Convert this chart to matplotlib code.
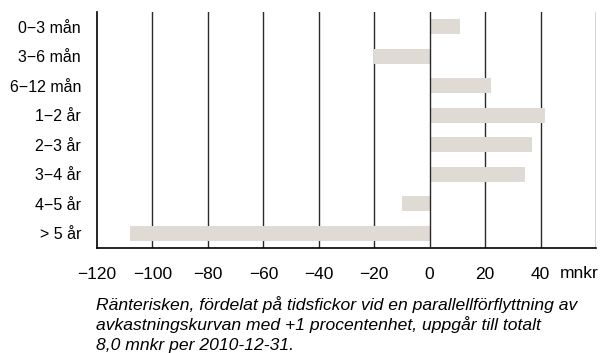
import matplotlib
matplotlib.use("Agg")
import matplotlib.pyplot as plt

categories = ["0\u22123 mån", "3\u22126 mån", "6\u221212 mån", "1\u22122 år",
              "2\u22123 år", "3\u22124 år", "4\u22125 år", "> 5 år"]
values = [11, -20, 22, 41.5, 37, 34.5, -10, -108]
xticks = [-120, -100, -80, -60, -40, -20, 0, 20, 40]
xticklabels = ["\u2212120", "\u2212100", "\u221280", "\u221260", "\u221240",
               "\u221220", "0", "20", "40"]
caption_lines = ["Ränterisken, fördelat på tidsfickor vid en parallellförflyttning av",
                 "avkastningskurvan med +1 procentenhet, uppgår till totalt",
                 "8,0 mnkr per 2010-12-31."]

plt.rcParams['font.family'] = ['Liberation Sans', 'DejaVu Sans']

fig = plt.figure(figsize=(6.0, 3.53), dpi=100)
W, H = 600, 353
left, right, top, bottom = 97, 596, 12, 248
ax = fig.add_axes([left / W, 1 - bottom / H, (right - left) / W, (bottom - top) / H])

ypos = list(range(len(categories)))
ax.barh(ypos, values, height=0.5, color="#e0dad4", zorder=2)
ax.set_ylim(7.5, -0.5)
ax.set_xlim(-120, 60)

for x in xticks[1:] + [60]:
    ax.axvline(x, color="#2a2a2a", lw=1.0, zorder=1 if x != 0 else 3)

for s in ["top", "right"]:
    ax.spines[s].set_visible(False)
for s in ["left", "bottom"]:
    ax.spines[s].set_color("black")
    ax.spines[s].set_linewidth(1.2)

ax.set_yticks(ypos)
ax.set_yticklabels(categories, fontsize=11.5)
ax.set_xticks(xticks)
ax.set_xticklabels(xticklabels, fontsize=12.5)
ax.tick_params(axis="both", length=0)
ax.tick_params(axis="y", pad=11.5)
ax.tick_params(axis="x", pad=13.5)

fig.text(560 / W, 1 - 277.5 / H, "mnkr", fontsize=12.5, ha="left", va="baseline")
for i, line in enumerate(caption_lines):
    fig.text(96 / W, 1 - (310 + 20 * i) / H, line, fontsize=12.6, style="italic",
             ha="left", va="baseline")

fig.savefig("out.png", dpi=100)
